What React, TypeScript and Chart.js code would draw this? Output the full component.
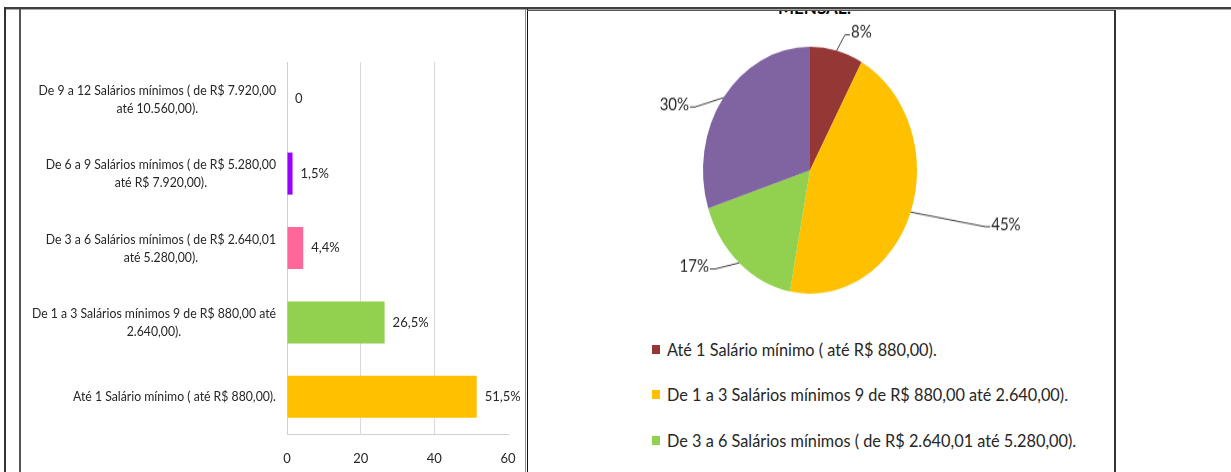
import React, { useEffect, useRef } from "react";
import { Chart, registerables } from "chart.js";

Chart.register(...registerables);

// ---------- data ----------
const BAR_CATEGORIES: string[][] = [
  ["De 9 a 12 Salários mínimos ( de R$ 7.920,00", "até 10.560,00)."],
  ["De 6 a 9 Salários mínimos ( de R$ 5.280,00", "até R$ 7.920,00)."],
  ["De 3 a 6 Salários mínimos ( de R$ 2.640,01", "até 5.280,00)."],
  ["De 1 a 3 Salários mínimos 9 de R$ 880,00 até", "2.640,00)."],
  ["Até 1 Salário mínimo ( até R$ 880,00)."],
];
const BAR_VALUES = [0, 1.5, 4.4, 26.5, 51.5];
const BAR_VALUE_LABELS = ["0", "1,5%", "4,4%", "26,5%", "51,5%"];
const X_TICKS = [0, 20, 40, 60];

const PIE_LABELS = [
  "Até 1 Salário mínimo ( até R$ 880,00).",
  "De 1 a 3 Salários mínimos 9 de R$ 880,00 até 2.640,00).",
  "De 3 a 6 Salários mínimos ( de R$ 2.640,01 até 5.280,00).",
  "De 6 a 9 Salários mínimos ( de R$ 5.280,00 até R$ 7.920,00).",
];
const PIE_VALUES = [8, 45, 17, 30];
const PIE_VALUE_LABELS = ["8%", "45%", "17%", "30%"];
const PIE_TITLE = "MENSAL:";

// ---------- styles ----------
const BAR_COLORS = ["#7F7F7F", "#9900FF", "#FF6699", "#92D050", "#FFC000"];
const PIE_COLORS = ["#953735", "#FFC000", "#92D050", "#8064A2"];
// leader-line elbow: radius factor and angular shift (degrees) from the slice middle
const PIE_LABEL_DIST = [1.145, 1.7, 1.195, 1.19];
const PIE_LABEL_SHIFT = [2.2, -4.2, 6.6, -10.5];
const FONT = 'Lato, "Open Sans", sans-serif';
const TEXT = "#262626";
const PIE_STRETCH = 1.154;
const CAT_FONT_SIZE = 14;
const CAT_SQUEEZE = 0.875;
const CAT_LINE_HEIGHT = 18;
const CAT_GAP = 11;

// category labels: each block right-aligned against the axis, its lines centred within the block
const categoryLabels = {
  id: "categoryLabels",
  afterDraw(chart: any) {
    const ctx = chart.ctx;
    const yScale = chart.scales.y;
    const rightEdge = chart.chartArea.left - CAT_GAP;
    ctx.save();
    ctx.font = `${CAT_FONT_SIZE}px ${FONT}`;
    ctx.fillStyle = TEXT;
    ctx.textBaseline = "middle";
    ctx.textAlign = "center";
    BAR_CATEGORIES.forEach((lines, i) => {
      const yc = yScale.getPixelForTick(i);
      const w = Math.max(...lines.map((l) => ctx.measureText(l).width)) * CAT_SQUEEZE;
      const cx = rightEdge - w / 2;
      lines.forEach((l, j) => {
        ctx.save();
        ctx.translate(cx, yc + (j - (lines.length - 1) / 2) * CAT_LINE_HEIGHT);
        ctx.scale(CAT_SQUEEZE, 1);
        ctx.fillText(l, 0, 0);
        ctx.restore();
      });
    });
    ctx.restore();
  },
};

const barValueLabels = {
  id: "barValueLabels",
  afterDatasetsDraw(chart: any) {
    const ctx = chart.ctx;
    const meta = chart.getDatasetMeta(0);
    ctx.save();
    ctx.font = `13px ${FONT}`;
    ctx.fillStyle = TEXT;
    ctx.textBaseline = "middle";
    ctx.textAlign = "left";
    meta.data.forEach((bar: any, i: number) => {
      const p = bar.getProps(["x", "y"], true);
      ctx.fillText(BAR_VALUE_LABELS[i], p.x + 8, p.y);
    });
    ctx.restore();
  },
};

const pieValueLabels = {
  id: "pieValueLabels",
  afterDatasetsDraw(chart: any) {
    const ctx = chart.ctx;
    const meta = chart.getDatasetMeta(0);
    ctx.save();
    ctx.font = `15px ${FONT}`;
    ctx.fillStyle = TEXT;
    ctx.strokeStyle = "#404040";
    ctx.lineWidth = 1;
    ctx.textBaseline = "middle";
    meta.data.forEach((arc: any, i: number) => {
      const p = arc.getProps(["x", "y", "startAngle", "endAngle", "outerRadius"], true);
      const mid = (p.startAngle + p.endAngle) / 2;
      const r = p.outerRadius;
      const x0 = p.x + Math.cos(mid) * r;
      const y0 = p.y + Math.sin(mid) * r;
      const a = mid + (PIE_LABEL_SHIFT[i] * Math.PI) / 180;
      const d = PIE_LABEL_DIST[i];
      const x1 = p.x + Math.cos(a) * r * d;
      const y1 = p.y + Math.sin(a) * r * d;
      const right = Math.cos(a) >= 0;
      const x2 = x1 + (right ? 5 : -5);
      ctx.beginPath();
      ctx.moveTo(x0, y0);
      ctx.lineTo(x1, y1);
      ctx.lineTo(x2, y1);
      ctx.stroke();
      ctx.textAlign = right ? "left" : "right";
      ctx.fillText(PIE_VALUE_LABELS[i], x2 + (right ? 1 : -1), y1 - 2);
    });
    ctx.restore();
  },
};

function BarChart() {
  const ref = useRef<HTMLCanvasElement>(null);
  useEffect(() => {
    const chart = new Chart(ref.current as HTMLCanvasElement, {
      type: "bar",
      data: {
        labels: BAR_CATEGORIES.map((c) => c.join(" ")),
        datasets: [
          {
            data: BAR_VALUES,
            backgroundColor: BAR_COLORS,
            borderWidth: 0,
            barPercentage: 0.565,
            categoryPercentage: 1,
          },
        ],
      },
      options: {
        indexAxis: "y",
        animation: false,
        responsive: false,
        layout: { padding: { top: 52, right: 17, left: 0, bottom: 0 } },
        plugins: { legend: { display: false }, tooltip: { enabled: false } },
        scales: {
          x: {
            min: 0,
            max: 60,
            afterBuildTicks: (scale: any) => {
              scale.ticks = X_TICKS.map((v) => ({ value: v }));
            },
            afterFit: (scale: any) => {
              scale.height = 38;
            },
            ticks: { padding: 2, maxRotation: 0, color: TEXT, font: { family: FONT, size: 13 } },
            grid: {
              color: (c: any) =>
                c.tick && (c.tick.value === 0 || c.tick.value === 60) ? "rgba(0,0,0,0)" : "#D9D9D9",
              drawTicks: true,
              tickLength: 15,
              tickColor: "rgba(0,0,0,0)",
            },
            border: { display: true, color: "#D0D0D0" },
          },
          y: {
            afterFit: (scale: any) => {
              scale.width = 267;
            },
            ticks: { display: false },
            grid: { display: false, drawTicks: false },
            border: { display: true, color: "#D0D0D0" },
          },
        },
      } as any,
      plugins: [barValueLabels, categoryLabels],
    });
    return () => chart.destroy();
  }, []);
  return <canvas ref={ref} width={505} height={462} style={{ width: 505, height: 462, display: "block" }} />;
}

function PieChart() {
  const ref = useRef<HTMLCanvasElement>(null);
  useEffect(() => {
    const chart = new Chart(ref.current as HTMLCanvasElement, {
      type: "pie",
      data: {
        labels: PIE_LABELS,
        datasets: [{ data: PIE_VALUES, backgroundColor: PIE_COLORS, borderWidth: 0 }],
      },
      options: {
        animation: false,
        responsive: false,
        layout: { padding: { top: 31, bottom: 25, left: 0, right: 31 } },
        plugins: { legend: { display: false }, tooltip: { enabled: false } },
      } as any,
      plugins: [pieValueLabels],
    });
    return () => chart.destroy();
  }, []);
  return <canvas ref={ref} width={577} height={270} style={{ width: 577, height: 270, display: "block" }} />;
}

const line = (left: number, top: number, width: number, height: number, bg: string) => (
  <div style={{ position: "absolute", left, top, width, height, background: bg }} />
);

export default function App() {
  return (
    <div
      style={{
        position: "fixed",
        left: 0,
        top: 0,
        width: 1231,
        height: 472,
        overflow: "hidden",
        background: "#fff",
        fontFamily: FONT,
      }}
    >
      {/* bar chart */}
      <div style={{ position: "absolute", left: 20, top: 10 }}>
        <BarChart />
      </div>

      {/* clipped pie title */}
      <div style={{ position: "absolute", left: 700, top: 10, width: 200, height: 4, overflow: "hidden" }}>
        <div
          style={{
            position: "absolute",
            left: 78,
            top: -10,
            fontWeight: "bold",
            fontSize: 17,
            lineHeight: "16px",
            color: "#000",
            whiteSpace: "nowrap",
          }}
        >
          {PIE_TITLE}
        </div>
      </div>

      {/* pie chart */}
      <div
        style={{
          position: "absolute",
          left: 537,
          top: 11,
          transform: `scaleY(${PIE_STRETCH})`,
          transformOrigin: "top left",
        }}
      >
        <PieChart />
      </div>

      {/* pie legend */}
      <div style={{ position: "absolute", left: 652, top: 338 }}>
        {PIE_LABELS.map((lab, i) => (
          <div
            key={i}
            style={{
              display: "flex",
              alignItems: "center",
              height: 22,
              marginBottom: 23.5,
              whiteSpace: "nowrap",
            }}
          >
            <span style={{ display: "inline-block", width: 8, height: 9, background: PIE_COLORS[i], marginRight: 7 }} />
            <span style={{ fontSize: 16.3, color: TEXT }}>{lab}</span>
          </div>
        ))}
      </div>

      {/* frame lines */}
      {line(4, 9, 1227, 1, "#A8A8A8")}
      {line(4, 7, 1227, 2, "#404040")}
      {line(4, 7, 2, 465, "#333")}
      {line(19, 9, 2, 463, "#555")}
      {line(525, 9, 1, 463, "#8A8A8A")}
      {line(527, 9, 1, 463, "#111")}
      {line(527, 10, 589, 1, "#555")}
      {line(1114, 10, 2, 462, "#333")}
    </div>
  );
}
